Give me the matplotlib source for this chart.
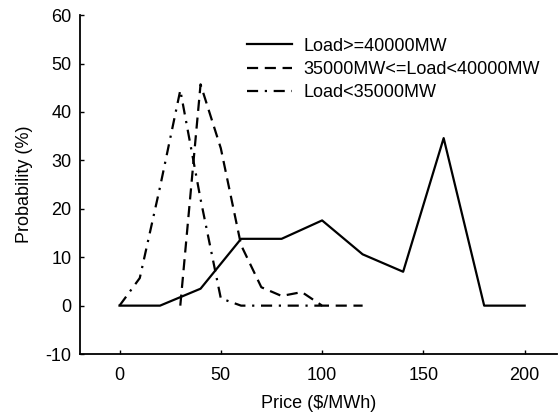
import matplotlib
matplotlib.use("Agg")
import matplotlib.pyplot as plt

plt.rcParams['font.family'] = ['Liberation Sans', 'DejaVu Sans']
plt.rcParams['axes.unicode_minus'] = False

# price axis ($/MWh) and probability (%) for each load level
price_high = [0, 20, 40, 60, 80, 100, 120, 140, 160, 180, 200]
prob_high = [0, 0, 3.5, 13.8, 13.8, 17.6, 10.6, 7.0, 34.6, 0, 0]

price_mid = [30, 40, 50, 60, 70, 80, 90, 100, 110, 120]
prob_mid = [0, 45.7, 32.5, 12.5, 3.8, 2.0, 2.8, 0, 0, 0]

price_low = [0, 10, 20, 30, 40, 50, 60, 70, 80, 90, 100]
prob_low = [0, 5.7, 24.5, 44.5, 22.0, 1.5, 0, 0, 0, 0, 0]

labels = ['Load>=40000MW', '35000MW<=Load<40000MW', 'Load<35000MW']

fig = plt.figure(figsize=(5.58, 4.2), dpi=100)
ax = fig.add_axes([0.1434, 0.157, 0.855, 0.807])

ax.plot(price_high, prob_high, color='black', lw=1.6, linestyle='-', label=labels[0])
ax.plot(price_mid, prob_mid, color='black', lw=1.6, linestyle=(0, (5, 3)), label=labels[1])
ax.plot(price_low, prob_low, color='black', lw=1.6, linestyle=(0, (5, 3, 1, 3)), label=labels[2])

ax.set_xlim(-19.5, 216)
ax.set_ylim(-10, 60)
ax.set_xticks([0, 50, 100, 150, 200])
ax.set_yticks([-10, 0, 10, 20, 30, 40, 50, 60])

for s in ['top', 'right']:
    ax.spines[s].set_visible(False)
for s in ['left', 'bottom']:
    ax.spines[s].set_linewidth(1.3)

ax.tick_params(axis='both', direction='in', labelsize=13, width=1, length=3)
ax.tick_params(axis='x', pad=9)
ax.tick_params(axis='y', pad=6)

ax.set_xlabel('Price ($/MWh)', fontsize=13, labelpad=8)
ax.set_ylabel('Probability (%)', fontsize=13, labelpad=9)

ax.legend(loc='upper left', bbox_to_anchor=(0.335, 0.955), frameon=False,
          fontsize=13, handlelength=2.5, handletextpad=0.6, labelspacing=0.35,
          borderaxespad=0)

fig.savefig('out.png', dpi=100)
